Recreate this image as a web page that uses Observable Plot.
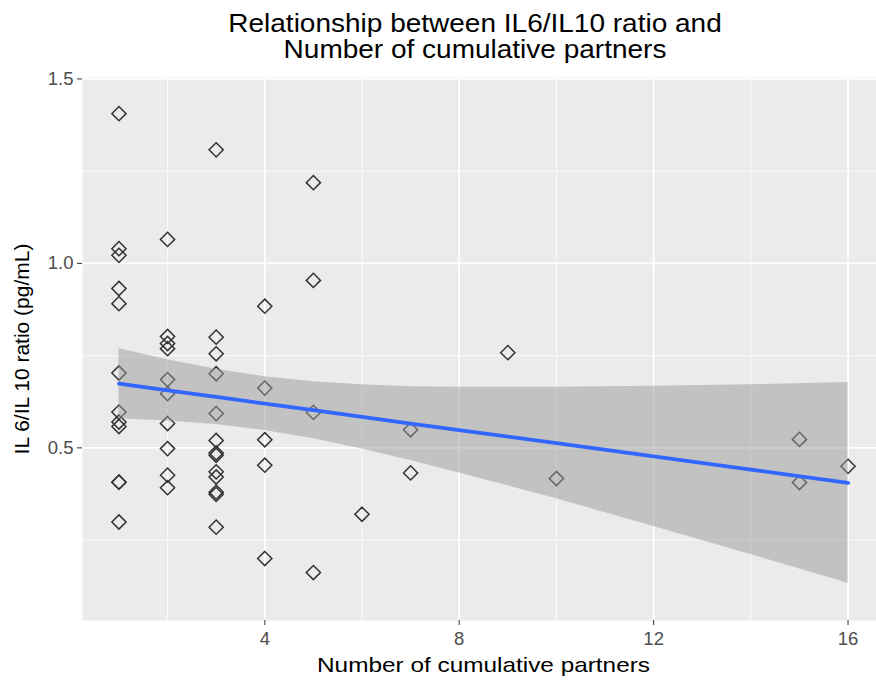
<!DOCTYPE html>
<html>
<head>
<meta charset="utf-8">
<script src="https://cdn.jsdelivr.net/npm/d3@7"></script>
<script src="https://cdn.jsdelivr.net/npm/@observablehq/plot@0.6"></script>
<style>
  html, body { margin: 0; padding: 0; background: #fff; overflow: hidden; }
  #wrap { width: 884px; font-family: "Liberation Sans", Arial, Helvetica, sans-serif; }
  #title { height: 66px; box-sizing: border-box; padding-top: 10px; padding-left: 66px;
           font-size: 25px; line-height: 26px; text-align: center; color: #000; }
  #title div { transform: scaleX(1.12); }
</style>
</head>
<body>
<div id="wrap">
  <div id="title"><div>Relationship between IL6/IL10 ratio and</div><div>Number of cumulative partners</div></div>
  <div id="chart"></div>
</div>
<script>
// Number of cumulative partners (x) and IL6/IL10 ratio (y)
const partners = [
  1,1,1,1,1,1,1,1,1,1,1,1,
  2,2,2,2,2,2,2,2,2,2,
  3,3,3,3,3,3,3,3,3,3,3,3,3,
  4,4,4,4,4,
  5,5,5,5,
  6,
  7,7,
  9,
  10,
  15,15,
  16
];
const ratio = [
  1.406,1.040,1.022,0.932,0.891,0.703,0.597,0.570,0.558,0.407,0.407,0.299,
  1.065,0.802,0.783,0.769,0.685,0.647,0.566,0.498,0.426,0.392,
  1.308,0.800,0.755,0.701,0.593,0.520,0.486,0.480,0.435,0.421,0.380,0.374,0.285,
  0.884,0.662,0.522,0.453,0.200,
  1.219,0.954,0.596,0.162,
  0.320,
  0.549,0.432,
  0.758,
  0.417,
  0.523,0.406,
  0.450
];
// Fitted linear model and 95% band
const fitX  = [1, 2, 3, 4, 5, 6, 7, 8, 10, 12, 14, 16];
const fitY  = [0.674,0.656,0.638,0.620,0.602,0.584,0.566,0.548,0.513,0.477,0.441,0.405];
const bandLo = [0.579,0.573,0.563,0.547,0.525,0.497,0.466,0.432,0.362,0.287,0.211,0.133];
const bandHi = [0.769,0.739,0.713,0.693,0.679,0.671,0.666,0.664,0.664,0.667,0.671,0.677];

const xMajor = [4, 8, 12, 16];
const xMinor = [2, 6, 10, 14];
const yMajor = [0.5, 1.0, 1.5];
const yMinor = [0.25, 0.75, 1.25];

const xTitle = "Number of cumulative partners";
const yTitle = "IL 6/IL 10 ratio (pg/mL)";

const points = partners.map((p, i) => ({x: p, y: ratio[i]}));
const band = fitX.map((x, i) => ({x, fit: fitY[i], lo: bandLo[i], hi: bandHi[i]}));

const chart = Plot.plot({
  width: 884,
  height: 616,
  marginTop: 11,
  marginBottom: 62,
  marginLeft: 82,
  marginRight: 0,
  style: {fontFamily: "'Liberation Sans', Arial, Helvetica, sans-serif", background: "#fff"},
  x: {domain: [0.25, 16.75]},
  y: {domain: [0.032, 1.504]},
  marks: [
    Plot.frame({fill: "#EBEBEB", stroke: null}),
    Plot.gridX(xMinor, {stroke: "#fff", strokeOpacity: 1, strokeWidth: 0.8}),
    Plot.gridY(yMinor, {stroke: "#fff", strokeOpacity: 1, strokeWidth: 0.8}),
    Plot.gridX(xMajor, {stroke: "#fff", strokeOpacity: 1, strokeWidth: 1.7}),
    Plot.gridY(yMajor, {stroke: "#fff", strokeOpacity: 1, strokeWidth: 1.7}),
    Plot.dot(points, {x: "x", y: "y", symbol: "diamond2", r: 6.4, fill: "none", stroke: "#333", strokeWidth: 1.5}),
    Plot.areaY(band, {x: "x", y1: "lo", y2: "hi", fill: "#999999", fillOpacity: 0.5}),
    Plot.lineY(band, {x: "x", y: "fit", stroke: "#3366FF", strokeWidth: 3.8}),
    Plot.axisX({ticks: xMajor, tickSize: 5, tickPadding: 6, fontSize: 18.5, color: "#4D4D4D", stroke: "#333", label: null}),
    Plot.axisY({ticks: yMajor, tickSize: 5, tickPadding: 4, fontSize: 18.5, color: "#4D4D4D", stroke: "#333", tickFormat: d3.format(".1f"), label: null}),
    Plot.text([xTitle], {text: d => d, frameAnchor: "bottom", dy: 51, fontSize: 21, fill: "#000", className: "xtitle"}),
    Plot.text([yTitle], {text: d => d, frameAnchor: "left", textAnchor: "middle", dx: -60, rotate: -90, fontSize: 21, fill: "#000"})
  ]
});
document.getElementById("chart").appendChild(chart);
// stretch the x-axis title glyphs to the reference's wider text
chart.querySelectorAll(".xtitle text").forEach(t => {
  t.setAttribute("textLength", 333);
  t.setAttribute("lengthAdjust", "spacingAndGlyphs");
});
</script>
</body>
</html>
